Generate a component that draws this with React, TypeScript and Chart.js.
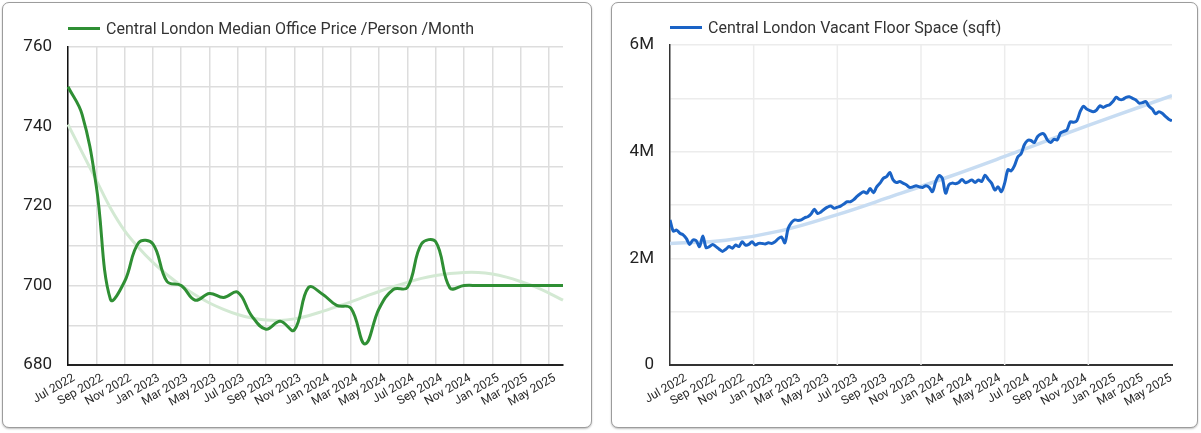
import React, { useEffect, useRef } from "react";
import { Chart, registerables } from "chart.js";

Chart.register(...registerables);

const FONT = "Roboto, 'Noto Sans', sans-serif";
const GREEN = "#2f8f34";
const GREEN_TREND = "#d3e9d3";
const BLUE = "#1a63c6";
const BLUE_TREND = "#c7dcf2";

// Left chart: monthly median price
const priceMonths = [
  "Jul 2022", "Aug 2022", "Sep 2022", "Oct 2022", "Nov 2022", "Dec 2022",
  "Jan 2023", "Feb 2023", "Mar 2023", "Apr 2023", "May 2023", "Jun 2023",
  "Jul 2023", "Aug 2023", "Sep 2023", "Oct 2023", "Nov 2023", "Dec 2023",
  "Jan 2024", "Feb 2024", "Mar 2024", "Apr 2024", "May 2024", "Jun 2024",
  "Jul 2024", "Aug 2024", "Sep 2024", "Oct 2024", "Nov 2024", "Dec 2024",
  "Jan 2025", "Feb 2025", "Mar 2025", "Apr 2025", "May 2025", "Jun 2025",
];
const priceValues = [
  750, 743, 725, 696.5, 701, 710.8,
  710.5, 701, 700, 696.3, 698, 697,
  698.3, 692.3, 689, 691, 688.8, 699.5,
  697.8, 695, 694.3, 685.3, 694.2, 699,
  699.5, 710.5, 711, 699.4, 700, 700,
  700, 700, 700, 700, 700, 700,
];
const priceTrend = [
  740.5, 733.5, 726.5, 719.5, 713.8, 709.5,
  705.8, 702.7, 700, 697.6, 695.6, 694,
  692.7, 691.8, 691.3, 691.2, 691.6, 692.4,
  693.5, 694.7, 695.9, 697.2, 698.5, 699.7,
  700.8, 701.8, 702.5, 703, 703.3, 703.3,
  702.9, 702.1, 701, 699.7, 698.1, 696.3,
];

// Right chart: weekly vacant floor space (millions of sqft)
const vacantStart = "2022-06-10";
const vacantSqftM = [
  2.72, 2.51, 2.53, 2.47, 2.44, 2.37, 2.26, 2.345, 2.33, 2.22,
  2.42, 2.2, 2.22, 2.26, 2.22, 2.17, 2.13, 2.17, 2.22, 2.19,
  2.25, 2.22, 2.31, 2.25, 2.26, 2.31, 2.25, 2.28, 2.28, 2.27,
  2.29, 2.28, 2.31, 2.37, 2.4, 2.29, 2.56, 2.67, 2.72, 2.71,
  2.72, 2.76, 2.78, 2.83, 2.92, 2.84, 2.87, 2.92, 2.96, 2.98,
  2.94, 2.96, 2.98, 3.02, 3.06, 3.06, 3.1, 3.16, 3.21, 3.25,
  3.22, 3.31, 3.23, 3.34, 3.41, 3.5, 3.53, 3.61, 3.47, 3.42,
  3.44, 3.41, 3.38, 3.33, 3.34, 3.36, 3.34, 3.33, 3.36, 3.33,
  3.25, 3.44, 3.55, 3.5, 3.22, 3.38, 3.41, 3.4, 3.42, 3.48,
  3.42, 3.44, 3.47, 3.42, 3.47, 3.44, 3.56, 3.48, 3.41, 3.28,
  3.34, 3.25, 3.41, 3.66, 3.64, 3.74, 3.9, 3.96, 4.13, 4.21,
  4.21, 4.17, 4.28, 4.33, 4.33, 4.22, 4.17, 4.23, 4.22, 4.35,
  4.38, 4.41, 4.56, 4.55, 4.58, 4.75, 4.85, 4.8, 4.77, 4.75,
  4.78, 4.86, 4.83, 4.86, 4.88, 4.94, 5.02, 4.98, 4.98, 5.02,
  5.03, 5.0, 4.97, 4.91, 4.92, 4.94, 4.85, 4.8, 4.71, 4.75,
  4.72, 4.66, 4.61, 4.58,
];
const vacantTrendWeeks = [0, 17, 34, 51, 68, 85, 102, 119, 136, 153];
const vacantTrendM = [2.28, 2.34, 2.52, 2.82, 3.17, 3.53, 3.91, 4.3, 4.68, 5.05];
const vacantTickLabels = [
  "Jul 2022", "Sep 2022", "Nov 2022", "Jan 2023", "Mar 2023", "May 2023",
  "Jul 2023", "Sep 2023", "Nov 2023", "Jan 2024", "Mar 2024", "May 2024",
  "Jul 2024", "Sep 2024", "Nov 2024", "Jan 2025", "Mar 2025", "May 2025",
];
const vacantTickDates = [
  "2022-07-01", "2022-09-01", "2022-11-01", "2023-01-01", "2023-03-01", "2023-05-01",
  "2023-07-01", "2023-09-01", "2023-11-01", "2024-01-01", "2024-03-01", "2024-05-01",
  "2024-07-01", "2024-09-01", "2024-11-01", "2025-01-01", "2025-03-01", "2025-05-01",
];

const weeksSince = (d: string) =>
  (Date.parse(d) - Date.parse(vacantStart)) / (7 * 24 * 3600 * 1000);

const xTickFont = { family: FONT, size: 12 };
const yTickFont = { family: FONT, size: 17 };

function Legend({ color, text, left, top }: { color: string; text: string; left: number; top: number }) {
  return (
    <div
      style={{
        position: "absolute",
        left,
        top,
        height: 20,
        display: "flex",
        alignItems: "center",
        fontFamily: FONT,
        fontSize: 16,
        color: "#333",
        whiteSpace: "nowrap",
      }}
    >
      <span style={{ display: "inline-block", width: 32, height: 3, background: color, marginRight: 6 }} />
      {text}
    </div>
  );
}

function PriceChart() {
  const canvasRef = useRef<HTMLCanvasElement>(null);

  useEffect(() => {
    if (!canvasRef.current) return;
    const chart = new Chart(canvasRef.current, {
      type: "line",
      data: {
        labels: priceMonths,
        datasets: [
          {
            label: "Central London Median Office Price /Person /Month",
            data: priceValues,
            borderColor: GREEN,
            borderWidth: 3,
            tension: 0.4,
            pointRadius: 0,
            order: 1,
          },
          {
            label: "Trend",
            data: priceTrend,
            borderColor: GREEN_TREND,
            borderWidth: 3,
            tension: 0.4,
            pointRadius: 0,
            order: 2,
          },
        ],
      },
      options: {
        animation: false,
        responsive: true,
        maintainAspectRatio: false,
        layout: { padding: { left: 8, right: 37, top: 47, bottom: 8 } },
        plugins: { legend: { display: false }, tooltip: { enabled: false } },
        scales: {
          x: {
            type: "category",
            offset: false,
            grid: {
              color: (ctx) => (ctx.index % 2 === 0 ? "#dddddd" : "rgba(0,0,0,0)"),
              lineWidth: 1.5,
              drawTicks: false,
            },
            border: { color: "#222", width: 2 },
            ticks: {
              autoSkip: false,
              minRotation: 30,
              maxRotation: 30,
              padding: 6,
              labelOffset: 6,
              color: "#2a2a2a",
              font: xTickFont,
              callback: (_v, i) => (i % 2 === 0 ? priceMonths[i] : ""),
            },
            afterFit: (s) => {
              s.height = 60;
            },
          },
          y: {
            min: 680,
            max: 760,
            grid: { color: "#dddddd", lineWidth: 1.5, drawTicks: false },
            border: { color: "#111", width: 1.5 },
            ticks: {
              stepSize: 10,
              padding: 16,
              color: "#222",
              font: yTickFont,
              callback: (v) => (Number(v) % 20 === 0 ? String(v) : ""),
            },
            afterFit: (s) => {
              s.width = 60;
            },
          },
        },
      },
    });
    return () => chart.destroy();
  }, []);

  return (
    <div style={{ position: "absolute", left: 0, top: 0, width: 600, height: 433 }}>
      <canvas ref={canvasRef} />
    </div>
  );
}

const sixthsGrid = {
  id: "sixthsGrid",
  beforeDatasetsDraw: (chart: Chart) => {
    const { ctx } = chart;
    const { left, right, top, bottom } = chart.chartArea;
    ctx.save();
    ctx.strokeStyle = "#ececec";
    ctx.lineWidth = 1.5;
    for (let k = 1; k < 6; k++) {
      const x = left + ((right - left) * k) / 6;
      ctx.beginPath();
      ctx.moveTo(x, top);
      ctx.lineTo(x, bottom);
      ctx.stroke();
    }
    ctx.restore();
  },
};

function VacancyChart() {
  const canvasRef = useRef<HTMLCanvasElement>(null);

  useEffect(() => {
    if (!canvasRef.current) return;
    const chart = new Chart(canvasRef.current, {
      type: "line",
      data: {
        datasets: [
          {
            label: "Central London Vacant Floor Space (sqft)",
            data: vacantSqftM.map((v, i) => ({ x: i, y: v })),
            borderColor: BLUE,
            borderWidth: 3,
            tension: 0.3,
            pointRadius: 0,
            order: 1,
          },
          {
            label: "Trend",
            data: vacantTrendWeeks.map((w, i) => ({ x: w, y: vacantTrendM[i] })),
            borderColor: BLUE_TREND,
            borderWidth: 3.5,
            tension: 0.4,
            pointRadius: 0,
            order: 2,
          },
        ],
      },
      options: {
        animation: false,
        responsive: true,
        maintainAspectRatio: false,
        layout: { padding: { left: 10, right: 29, top: 45, bottom: 8 } },
        plugins: { legend: { display: false }, tooltip: { enabled: false } },
        scales: {
          x: {
            type: "linear",
            min: 0,
            max: vacantSqftM.length - 1,
            afterBuildTicks: (s) => {
              s.ticks = vacantTickDates.map((d) => ({ value: weeksSince(d) }));
            },
            grid: { display: false, drawTicks: false },
            border: { color: "#333", width: 2 },
            ticks: {
              autoSkip: false,
              minRotation: 30,
              maxRotation: 30,
              padding: 6,
              labelOffset: 6,
              color: "#2a2a2a",
              font: xTickFont,
              callback: (_v, i) => vacantTickLabels[i],
            },
            afterFit: (s) => {
              s.height = 60;
            },
          },
          y: {
            min: 0,
            max: 6,
            grid: { color: "#ececec", lineWidth: 1.5, drawTicks: false },
            border: { color: "#333", width: 1.5 },
            ticks: {
              stepSize: 1,
              padding: 16,
              color: "#222",
              font: yTickFont,
              callback: (v) => {
                const n = Number(v);
                if (n % 2 !== 0) return "";
                return n === 0 ? "0" : `${n}M`;
              },
            },
            afterFit: (s) => {
              s.width = 60;
            },
          },
        },
      },
      plugins: [sixthsGrid],
    });
    return () => chart.destroy();
  }, []);

  return (
    <div style={{ position: "absolute", left: 600, top: 0, width: 601, height: 433 }}>
      <canvas ref={canvasRef} />
    </div>
  );
}

const panelStyle: React.CSSProperties = {
  position: "absolute",
  top: 2,
  height: 426,
  boxSizing: "border-box",
  border: "1px solid #9c9c9c",
  borderRadius: 7,
  boxShadow: "0 1px 2px rgba(0,0,0,0.25)",
  background: "#fff",
};

export default function App() {
  return (
    <div style={{ position: "absolute", left: 0, top: 0, width: 1201, height: 433, background: "#fff" }}>
      <div style={{ ...panelStyle, left: 2, width: 590 }} />
      <div style={{ ...panelStyle, left: 611, width: 587 }} />
      <PriceChart />
      <VacancyChart />
      <Legend color={GREEN} text="Central London Median Office Price /Person /Month" left={68} top={18.5} />
      <Legend color={BLUE} text="Central London Vacant Floor Space (sqft)" left={670} top={17.5} />
    </div>
  );
}
